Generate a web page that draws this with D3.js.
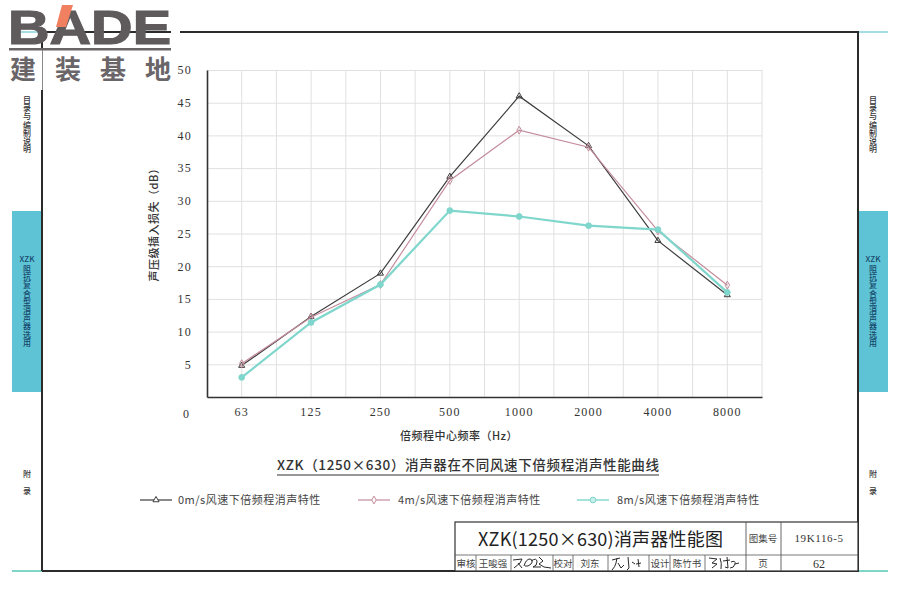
<!DOCTYPE html>
<html>
<head>
<meta charset="utf-8">
<script src="https://cdn.jsdelivr.net/npm/d3@7"></script>
<style>
  html, body { margin: 0; padding: 0; background: #fff; }
  svg { display: block; }
  text { font-family: "Noto Sans CJK SC", "Liberation Sans", sans-serif; fill: #333; }
  .serif { font-family: "Liberation Serif", "Noto Sans CJK SC", serif; }
  .vert { writing-mode: vertical-rl; text-orientation: upright; }
</style>
</head>
<body>
<script>
// chart data
var categories = ["63", "125", "250", "500", "1000", "2000", "4000", "8000"];
var wind0 = [4.8, 12.3, 18.9, 33.7, 46.0, 38.4, 23.9, 15.6];
var wind4 = [5.1, 12.2, 17.2, 33.1, 40.8, 38.2, 25.4, 17.1];
var wind8 = [3.0, 11.4, 17.2, 28.5, 27.6, 26.2, 25.6, 16.0];
var yTicks = [5, 10, 15, 20, 25, 30, 35, 40, 45, 50];
var legendNames = ["0m/s风速下倍频程消声特性", "4m/s风速下倍频程消声特性", "8m/s风速下倍频程消声特性"];
var sideEnd = ["附", "录"];

var svg = d3.select("body").append("svg")
    .attr("width", 900)
    .attr("height", 600);

var teal = "#5fc3d6";

// page frame and side tabs
function sideColumn(cx) {
  svg.append("rect").attr("x", cx - 15).attr("y", 211).attr("width", 30).attr("height", 181).attr("fill", teal);
  svg.append("line").attr("x1", cx - 15).attr("x2", cx + 15).attr("y1", 32).attr("y2", 32).attr("stroke", "#a5dde4").attr("stroke-width", 2);
  svg.append("line").attr("x1", cx - 15).attr("x2", cx + 15).attr("y1", 571).attr("y2", 571).attr("stroke", "#7fd6c8").attr("stroke-width", 2);

  svg.append("text").attr("class", "vert").text("目录与编制说明")
      .attr("x", cx).attr("y", 96)
      .attr("font-size", 8).attr("font-weight", 500).attr("letter-spacing", 0.2).style("fill", "#333");
  svg.append("text").text("XZK")
      .attr("x", cx).attr("y", 262)
      .attr("text-anchor", "middle").attr("font-size", 8).attr("font-weight", 500).style("fill", "#16486a");
  svg.append("text").attr("class", "vert").text("阻抗复合型消声器选用")
      .attr("x", cx).attr("y", 265)
      .attr("font-size", 8).attr("font-weight", 500).attr("letter-spacing", 0.2).style("fill", "#16486a");
  svg.selectAll(null).data(sideEnd).enter().append("text")
      .text(function(d) { return d; })
      .attr("x", cx).attr("y", function(d, i) { return 477 + i * 17; })
      .attr("text-anchor", "middle").attr("font-size", 8).attr("font-weight", 500).style("fill", "#333");
}
sideColumn(27);
sideColumn(873);

svg.append("path")
    .attr("d", "M42,571V32H858V571H42")
    .attr("fill", "none").attr("stroke", "#2b2b2b").attr("stroke-width", 2);

// logo, sits on top of the frame corner
svg.append("rect").attr("x", 171).attr("y", 26).attr("width", 9).attr("height", 12).attr("fill", "#fff");
svg.append("rect").attr("x", 38).attr("y", 50).attr("width", 8).attr("height", 40).attr("fill", "#fff");
svg.append("line").attr("x1", 42.5).attr("x2", 42.5).attr("y1", 50).attr("y2", 90).attr("stroke", "#8a8a8a").attr("stroke-width", 1);
svg.append("text").text("BADE")
    .attr("x", 8).attr("y", 43.5)
    .attr("font-size", 47.5).attr("font-weight", 700)
    .attr("textLength", 163).attr("lengthAdjust", "spacingAndGlyphs")
    .attr("stroke", "#5f5a5c").attr("stroke-width", 1.2)
    .style("font-family", "Liberation Sans").style("fill", "#5f5a5c");
svg.append("path").attr("d", "M62,5H73L66,27H56Z").attr("fill", "#f0805f");
svg.append("rect").attr("x", 9).attr("y", 48).attr("width", 162).attr("height", 2.5).attr("fill", "#6a6568");
svg.selectAll(null).data(["建", "装", "基", "地"]).enter().append("text")
    .text(function(d) { return d; })
    .attr("x", function(d, i) { return 23 + i * 45; })
    .attr("y", 79).attr("text-anchor", "middle")
    .attr("font-size", 26).attr("font-weight", 700)
    .style("fill", "#6a6568");

// scales
var x = d3.scaleBand().domain(categories).range([207, 762]);
var y = d3.scaleLinear().domain([0, 50]).range([397, 70]);

// grid, one extra vertical line between categories
var gridY = svg.append("g")
    .attr("transform", "translate(207,0)")
    .call(d3.axisRight(y).tickValues(yTicks).tickSize(555).tickFormat(""));
gridY.select(".domain").remove();
gridY.selectAll("line").attr("stroke", "#e0e0e0").attr("stroke-width", 1);

var gridX = svg.append("g");
categories.forEach(function(c, i) {
  var left = x(c);
  [0.5, 1].forEach(function(f) {
    gridX.append("line")
        .attr("x1", left + x.bandwidth() * f).attr("x2", left + x.bandwidth() * f)
        .attr("y1", 70).attr("y2", 397)
        .attr("stroke", "#e0e0e0").attr("stroke-width", 1);
  });
});

// axes
var yAxis = svg.append("g")
    .attr("transform", "translate(207,0)")
    .call(d3.axisLeft(y).tickValues(yTicks).tickSize(0).tickPadding(15));
yAxis.select(".domain").attr("stroke", "#333").attr("stroke-width", 1.6);
yAxis.selectAll("text").attr("class", "serif").attr("font-size", 12).attr("letter-spacing", 1.2);

var xAxis = svg.append("g")
    .attr("transform", "translate(0,397)")
    .call(d3.axisBottom(x).tickSize(0).tickPadding(10));
xAxis.select(".domain").attr("stroke", "#333").attr("stroke-width", 1.6);
xAxis.selectAll("text").attr("class", "serif").attr("font-size", 12).attr("letter-spacing", 1.2);

svg.append("text").attr("class", "serif").text("0")
    .attr("x", 186).attr("y", 418).attr("text-anchor", "middle").attr("font-size", 12);

svg.append("text")
    .text("声压级插入损失（dB）")
    .attr("transform", "translate(158,222) rotate(-90)")
    .attr("text-anchor", "middle").attr("font-size", 11).attr("font-weight", 500).attr("letter-spacing", 0.5);
svg.append("text")
    .text("倍频程中心频率（Hz）")
    .attr("x", 459).attr("y", 440)
    .attr("text-anchor", "middle").attr("font-size", 11).attr("font-weight", 500).attr("letter-spacing", 0.5);

// series
var series = [
  { values: wind0, color: "#3c3c3c", width: 1.2, symbol: d3.symbolTriangle, size: 16 },
  { values: wind4, color: "#c48c9c", width: 1.2, symbol: d3.symbolDiamond, size: 18 },
  { values: wind8, color: "#7fd6cc", width: 2.2, symbol: d3.symbolCircle, size: 26 }
];
var line = d3.line()
    .x(function(d, i) { return x(categories[i]) + x.bandwidth() / 2; })
    .y(function(d) { return y(d); });

series.forEach(function(s) {
  svg.append("path")
      .attr("d", line(s.values))
      .attr("fill", "none").attr("stroke", s.color).attr("stroke-width", s.width);
  svg.selectAll(null).data(s.values).enter().append("path")
      .attr("d", d3.symbol().type(s.symbol).size(s.size))
      .attr("transform", function(d, i) {
        return "translate(" + (x(categories[i]) + x.bandwidth() / 2) + "," + y(d) + ")";
      })
      .attr("fill", s.symbol === d3.symbolCircle ? s.color : "none")
      .attr("stroke", s.color).attr("stroke-width", 1);
});

// chart heading
svg.append("text")
    .text("XZK（1250×630）消声器在不同风速下倍频程消声性能曲线")
    .attr("x", 468).attr("y", 470)
    .attr("text-anchor", "middle").attr("font-size", 13.5).attr("font-weight", 500)
    .attr("textLength", 382).attr("lengthAdjust", "spacing");
svg.append("line").attr("x1", 277).attr("x2", 659).attr("y1", 475).attr("y2", 475)
    .attr("stroke", "#333").attr("stroke-width", 1.2);

// legend
var legendX = [140, 358, 577];
var legendTextX = [178, 398, 617];
series.forEach(function(s, i) {
  var x0 = legendX[i], w = 32;
  svg.append("line").attr("x1", x0).attr("x2", x0 + w).attr("y1", 500).attr("y2", 500)
      .attr("stroke", s.color).attr("stroke-width", i === 2 ? 1.4 : s.width);
  svg.append("path").attr("d", d3.symbol().type(s.symbol).size(s.size))
      .attr("transform", "translate(" + (x0 + w / 2) + ",500)")
      .attr("fill", s.symbol === d3.symbolCircle ? "#c8efe9" : "#fff")
      .attr("stroke", s.color);
  svg.append("text").text(legendNames[i])
      .attr("x", legendTextX[i]).attr("y", 504)
      .attr("font-size", 11).attr("letter-spacing", 0.5).style("fill", "#444");
});

// title block
var block = svg.append("g");
block.append("rect").attr("x", 455).attr("y", 522).attr("width", 403).attr("height", 49)
    .attr("fill", "#fff").attr("stroke", "#333").attr("stroke-width", 1.2);
block.append("line").attr("x1", 455).attr("x2", 858).attr("y1", 555).attr("y2", 555).attr("stroke", "#555").attr("stroke-width", 0.8);
[746, 781].forEach(function(v) {
  block.append("line").attr("x1", v).attr("x2", v).attr("y1", 522).attr("y2", 571).attr("stroke", "#555").attr("stroke-width", 0.9);
});
[476, 511, 553, 573, 608, 649, 670, 705].forEach(function(v) {
  block.append("line").attr("x1", v).attr("x2", v).attr("y1", 555).attr("y2", 571).attr("stroke", "#555").attr("stroke-width", 0.8);
});
block.append("text").text("XZK(1250×630)消声器性能图")
    .attr("x", 478).attr("y", 546).attr("font-size", 18)
    .attr("textLength", 245).attr("lengthAdjust", "spacing").style("fill", "#222");
var cells = [
  ["审核", 466, 567], ["王唆强", 493, 567], ["校对", 563, 567], ["刘东", 590, 567],
  ["设计", 660, 567], ["陈竹书", 687, 567], ["页", 763, 567]
];
cells.forEach(function(c) {
  block.append("text").text(c[0]).attr("x", c[1]).attr("y", c[2])
      .attr("text-anchor", "middle").attr("font-size", 9.5).style("fill", "#444");
});
block.append("text").text("图集号").attr("x", 763).attr("y", 542).attr("text-anchor", "middle").attr("font-size", 9.5).style("fill", "#444");
block.append("text").attr("class", "serif").text("19K116-5").attr("x", 819).attr("y", 542)
    .attr("text-anchor", "middle").attr("font-size", 11).attr("letter-spacing", 0.6);
block.append("text").attr("class", "serif").text("62").attr("x", 819).attr("y", 568)
    .attr("text-anchor", "middle").attr("font-size", 12);

// signatures
var signs = [
  "M513,560 l9,-1 l-2,4 l-6,5 M518,563 l4,5 M524,566 q2,-7 6,-7 q4,1 1,5 q-3,3 -6,2 M531,561 q6,-4 6,1 q0,4 -4,5 l8,0 M539,557 l4,4 l-4,3 l5,3 l7,1",
  "M612,560 l8,-2 M617,558 l-1,5 q-1,4 -4,7 M618,563 l3,5 l3,-3 M628,557 l1,11 l-2,2 M632,562 l3,2 M638,559 l1,8 M636,564 l5,-1",
  "M709,558 l8,1 l-5,4 l5,1 l-5,4 M720,558 q2,5 1,11 M723,561 l7,-1 M727,557 l1,11 l-3,-1 M731,562 q5,-2 4,2 q-1,4 -5,4 M735,564 l4,-1"
];
signs.forEach(function(d) {
  block.append("path").attr("d", d).attr("fill", "none").attr("stroke", "#2a2a2a").attr("stroke-width", 1);
});
</script>
</body>
</html>
